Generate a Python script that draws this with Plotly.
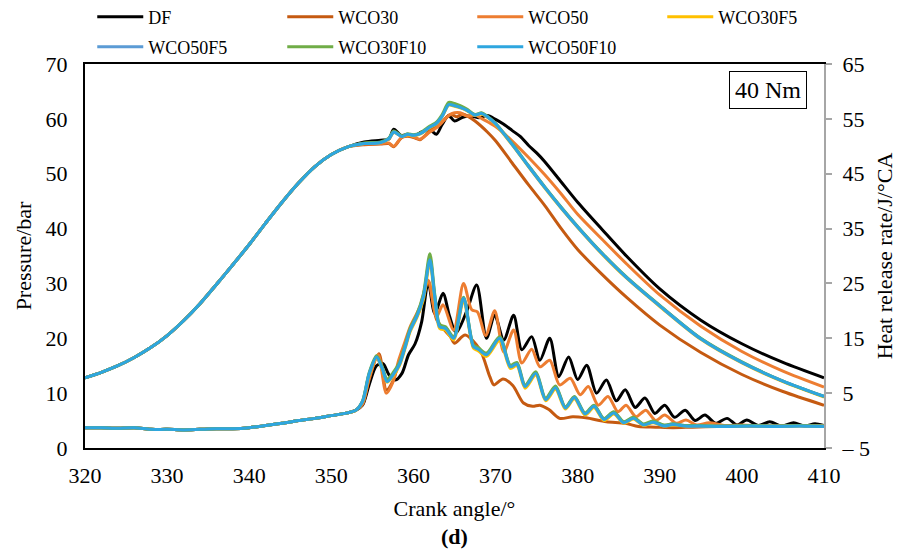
import plotly.graph_objects as go

# ---------------- data ----------------
SERIES = ["DF", "WCO30", "WCO50", "WCO30F5", "WCO50F5", "WCO30F10", "WCO50F10"]
COLORS = ["#000000", "#C55A11", "#ED7D31", "#FFC000", "#5B9BD5", "#70AD47", "#2EA6DF"]

# compression stroke (common to all fuels)
CA_COMP = [320, 322, 324, 326, 328, 330, 332, 334, 336, 338, 340, 342, 344, 346, 348, 350, 352]
P_COMP = [12.8, 13.8, 15.0, 16.5, 18.3, 20.5, 23.2, 26.3, 29.8, 33.4, 37.1, 41.0, 44.8, 48.3, 51.3, 53.5, 54.9]

# combustion / expansion pressure
CA_P_DF = [354, 356, 357, 357.6, 358.5, 359.3, 360.2, 361, 362, 362.8, 363.5, 364.3, 365, 366, 367, 368, 369,
           370, 371, 372, 373, 374, 375, 376, 378, 380, 383, 386, 390, 395, 400, 405, 410]
P_DF = [55.8, 56.1, 56.3, 58.1, 57.0, 57.1, 57.0, 57.6, 58.0, 57.2, 59.0, 60.6, 59.6, 60.3, 60.5, 60.2, 60.6,
        59.9, 59.0, 57.9, 56.8, 55.2, 53.8, 52.2, 48.5, 44.8, 39.8, 34.9, 29.0, 23.3, 19.0, 15.6, 12.8]

CA_P_WCO50 = [354, 356, 357, 357.6, 358.6, 359.5, 360.2, 360.8, 362, 363, 364.3, 365, 365.7, 366.5, 367.5, 368.5,
              370, 372, 374, 376, 378, 380, 383, 386, 390, 395, 400, 405, 410]
P_WCO50 = [55.4, 55.5, 55.6, 55.0, 56.7, 56.9, 56.6, 56.3, 57.6, 58.6, 60.6, 61.1, 61.1, 60.5, 60.7, 59.9,
           58.6, 56.0, 53.0, 49.8, 46.3, 42.6, 38.0, 33.5, 27.9, 22.2, 17.6, 14.0, 11.1]

CA_P_WCO30 = [354, 356, 357, 357.6, 358.6, 359.5, 360.2, 360.8, 362, 363.5, 364.5, 365.3, 366, 366.7, 367.5,
              369, 370, 372, 374, 376, 378, 380, 383, 386, 390, 395, 400, 405, 410]
P_WCO30 = [55.3, 55.4, 55.5, 54.9, 56.6, 56.8, 56.5, 56.2, 57.8, 59.5, 60.8, 60.4, 60.9, 60.4, 59.6,
           57.6, 56.0, 52.0, 48.0, 44.2, 40.0, 36.2, 31.6, 27.4, 22.4, 17.4, 13.4, 10.3, 7.8]

CA_P_FAME = [354, 356, 357, 357.6, 358.6, 359.3, 360, 360.8, 362, 362.8, 363.5, 364.3, 365, 365.7, 366.5,
             367.5, 368.3, 369, 370, 372, 374, 376, 378, 380, 383, 386, 390, 395, 400, 405, 410]
P_WCO30F5 = [55.5, 55.7, 56.3, 57.5, 56.8, 57.1, 56.9, 57.2, 58.4, 59.1, 60.4, 62.5, 62.3, 62.0, 61.5,
             60.6, 60.9, 60.3, 59.0, 55.3, 51.3, 47.4, 43.7, 40.2, 35.3, 30.9, 25.8, 19.8, 15.5, 12.1, 9.3]
P_WCO50F5 = [55.5, 55.7, 56.4, 57.6, 56.8, 57.2, 57.0, 57.3, 58.5, 59.2, 60.5, 62.7, 62.5, 62.1, 61.6,
             60.7, 61.0, 60.4, 59.1, 55.4, 51.4, 47.5, 43.8, 40.3, 35.4, 31.0, 25.9, 19.9, 15.6, 12.2, 9.4]
P_WCO30F10 = [55.6, 55.8, 56.5, 57.8, 56.9, 57.3, 57.1, 57.4, 58.7, 59.4, 60.8, 63.0, 62.8, 62.4, 61.8,
              60.8, 61.1, 60.5, 59.2, 55.5, 51.5, 47.6, 43.9, 40.4, 35.5, 31.1, 26.0, 20.0, 15.7, 12.2, 9.4]
P_WCO50F10 = [55.5, 55.7, 56.4, 57.6, 56.8, 57.2, 57.0, 57.3, 58.5, 59.2, 60.5, 62.6, 62.4, 62.1, 61.6,
              60.7, 61.0, 60.4, 59.1, 55.4, 51.4, 47.5, 43.8, 40.3, 35.4, 31.0, 25.9, 19.9, 15.6, 12.2, 9.4]

# heat release rate before ignition (common to all fuels)
CA_HRR_PRE = [320, 322, 324, 326, 328, 330, 332, 334, 336, 338, 340, 342, 344, 346, 348, 350, 352, 353]
HRR_PRE = [-1.3, -1.3, -1.4, -1.3, -1.6, -1.6, -1.7, -1.6, -1.5, -1.5, -1.3, -0.9, -0.5, 0.0, 0.4, 0.9, 1.4, 1.9]

CA_H_DF = [353.8, 354.6, 355.5, 356.3, 357.0, 357.8, 358.6, 359.4, 360.2, 361.0, 361.8, 362.6, 363.6, 364.4,
           365.2, 366.5, 367.7, 368.9, 369.9, 371.0, 372.2, 373.2, 374.4, 375.4, 376.6, 377.7, 378.9, 380.0,
           381.1, 382.3, 383.5, 384.7, 385.8, 387.0, 388.2, 389.4, 390.6, 391.8, 393.1, 394.3, 395.5, 396.8,
           398.2, 399.4, 400.6, 402.0, 403.4, 404.8, 406.3, 407.6, 408.9, 410]
H_DF = [2.8, 6.5, 10.0, 10.4, 8.4, 7.4, 8.6, 12.0, 14.0, 18.0, 25.2, 19.5, 23.2, 19.0,
        16.0, 20.0, 24.7, 15.0, 19.2, 14.7, 19.2, 12.9, 15.3, 11.0, 15.0, 8.0, 11.6, 7.5,
        10.1, 5.0, 7.4, 3.6, 5.6, 2.4, 4.1, 1.3, 2.8, 0.6, 1.9, 0.0, 1.0, -0.5,
        0.4, -0.8, 0.1, -0.9, -0.2, -1.0, -0.4, -1.0, -0.6, -0.9]

CA_H_WCO50 = [353.8, 354.6, 355.7, 356.7, 357.5, 358.2, 359.0, 359.6, 360.8, 361.8, 362.8, 363.6, 364.9,
              366.1, 367.1, 367.8, 368.8, 369.9, 371.0, 372.2, 373.2, 374.4, 375.4, 376.6, 377.8, 379.1,
              380.3, 381.3, 382.5, 383.7, 384.9, 385.9, 387.1, 388.3, 389.5, 390.6, 392.0, 393.2, 394.5,
              396.0, 398.0, 400.0, 403.0, 406.0, 410.0]
H_WCO50 = [3.0, 7.5, 12.0, 5.0, 7.0, 11.0, 14.5, 17.1, 20.8, 25.6, 18.9, 21.1, 16.5,
           25.0, 20.2, 19.8, 15.5, 20.0, 12.5, 16.5, 10.5, 13.0, 9.8, 11.0, 6.5, 7.7,
           4.7, 6.2, 2.8, 4.4, 1.6, 2.8, 0.7, 1.9, 0.0, 1.0, -0.5, 0.1, -0.8,
           -0.4, -0.9, -0.8, -1.0, -0.9, -0.9]

CA_H_WCO30 = [353.8, 354.6, 355.8, 356.7, 357.5, 358.2, 359.0, 359.6, 360.8, 361.8, 362.8, 363.6, 364.5,
              365.0, 366.3, 368.1, 369.3, 369.8, 370.9, 372.1, 373.4, 374.5, 375.4, 376.5, 377.8, 379.4,
              381.0, 383.5, 385.8, 387.4, 389.5, 391.6, 394, 397, 400, 403, 406, 410]
H_WCO30 = [3.0, 7.8, 12.2, 5.6, 7.2, 10.5, 14.0, 16.5, 20.3, 25.4, 18.5, 16.8, 15.3,
           14.1, 15.6, 12.9, 8.0, 6.5, 7.6, 6.4, 3.2, 2.6, 2.8, 2.0, 0.4, 0.7,
           0.5, -0.2, -0.5, -1.1, -1.2, -1.3, -1.2, -1.1, -1.0, -1.1, -0.9, -1.0]

CA_H_FAME = [353.8, 354.6, 355.5, 356.2, 356.8, 357.6, 358.3, 359.0, 359.6, 360.4, 361.2, 362.0, 362.6,
             363.2, 363.9, 364.9, 366.1, 367.3, 367.9, 368.9, 370.5, 371.8, 372.6, 373.6, 374.9, 376.1,
             377.3, 378.5, 379.6, 380.9, 382.0, 383.2, 384.4, 385.6, 386.8, 388.0, 389.2, 390.5, 391.6,
             393, 395, 398, 401, 404, 407, 410]
H_WCO30F5 = [3.4, 8.3, 11.4, 9.3, 7.0, 8.3, 10.0, 13.2, 16.2, 18.7, 22.0, 28.8, 22.0,
             16.8, 16.5, 14.7, 21.8, 13.2, 12.7, 11.7, 14.6, 9.5, 10.0, 5.9, 8.3, 3.6,
             5.7, 2.1, 4.0, 1.0, 2.4, 0.0, 1.2, -0.5, 0.3, -0.9, -0.4, -1.0, -0.8,
             -1.0, -1.0, -1.1, -1.0, -1.1, -1.0, -1.1]
H_WCO50F5 = [3.5, 8.5, 11.6, 9.5, 7.2, 8.6, 10.3, 13.5, 16.5, 19.0, 22.6, 29.6, 22.6,
             17.2, 16.9, 15.1, 22.4, 13.6, 13.1, 12.1, 15.1, 9.9, 10.4, 6.3, 8.7, 3.9,
             6.1, 2.4, 4.3, 1.3, 2.7, 0.3, 1.5, -0.3, 0.5, -0.7, -0.2, -0.9, -0.6,
             -0.9, -1.0, -1.0, -1.0, -1.0, -1.0, -1.0]
H_WCO30F10 = [3.6, 8.7, 11.8, 9.8, 7.6, 8.9, 10.6, 13.8, 16.8, 19.3, 23.0, 30.4, 23.0,
              17.5, 17.1, 15.3, 22.5, 13.8, 13.3, 12.3, 15.3, 10.1, 10.6, 6.5, 8.9, 4.1,
              6.3, 2.5, 4.4, 1.4, 2.8, 0.4, 1.6, -0.2, 0.6, -0.6, -0.1, -0.8, -0.6,
              -0.9, -0.9, -1.0, -0.9, -1.0, -0.9, -1.0]
H_WCO50F10 = [3.5, 8.5, 11.6, 9.5, 7.1, 8.5, 10.3, 13.5, 16.5, 19.0, 22.5, 29.3, 22.5,
              17.1, 16.8, 15.0, 22.3, 13.5, 13.0, 12.0, 15.0, 9.8, 10.3, 6.2, 8.6, 3.8,
              6.0, 2.3, 4.2, 1.2, 2.6, 0.2, 1.4, -0.4, 0.4, -0.8, -0.3, -1.0, -0.7,
              -1.0, -1.0, -1.1, -1.0, -1.1, -1.0, -1.1]

P_TAILS = [(CA_P_DF, P_DF), (CA_P_WCO30, P_WCO30), (CA_P_WCO50, P_WCO50),
           (CA_P_FAME, P_WCO30F5), (CA_P_FAME, P_WCO50F5), (CA_P_FAME, P_WCO30F10), (CA_P_FAME, P_WCO50F10)]
H_TAILS = [(CA_H_DF, H_DF), (CA_H_WCO30, H_WCO30), (CA_H_WCO50, H_WCO50),
           (CA_H_FAME, H_WCO30F5), (CA_H_FAME, H_WCO50F5), (CA_H_FAME, H_WCO30F10), (CA_H_FAME, H_WCO50F10)]

X_TICKS = [320, 330, 340, 350, 360, 370, 380, 390, 400, 410]
Y_TICKS = [0, 10, 20, 30, 40, 50, 60, 70]
Y2_TICKS = [-5, 5, 15, 25, 35, 45, 55, 65]
Y2_LABELS = ["– 5", "5", "15", "25", "35", "45", "55", "65"]

FONT = "Liberation Serif, Times New Roman, serif"

# ---------------- figure ----------------
fig = go.Figure()
for i, name in enumerate(SERIES):
    ca_p, p = P_TAILS[i]
    ca_h, h = H_TAILS[i]
    legend_id = "legend" if i < 4 else "legend2"
    fig.add_trace(go.Scatter(
        x=CA_COMP + ca_p, y=P_COMP + p, mode="lines", name=name,
        line=dict(color=COLORS[i], width=3, shape="spline", smoothing=0.8),
        legendgroup=name, showlegend=True, legend=legend_id, yaxis="y"))
    fig.add_trace(go.Scatter(
        x=CA_HRR_PRE + ca_h, y=HRR_PRE + h, mode="lines", name=name,
        line=dict(color=COLORS[i], width=3, shape="spline", smoothing=0.8),
        legendgroup=name, showlegend=False, yaxis="y2"))

legend_common = dict(orientation="h", font=dict(family=FONT, size=18, color="black"),
                     entrywidth=121, entrywidthmode="pixels", itemwidth=46, indentation=8,
                     bgcolor="rgba(0,0,0,0)", xanchor="left", yanchor="middle")

fig.update_layout(
    width=908, height=554,
    margin=dict(l=85, r=84, t=64, b=106, autoexpand=False),
    paper_bgcolor="white", plot_bgcolor="white",
    font=dict(family=FONT, size=22, color="black"),
    showlegend=True,
    legend=dict(x=-0.001, y=(448 - 17) / 384, **legend_common),
    legend2=dict(x=-0.001, y=(448 - 47) / 384, **legend_common),
    xaxis=dict(range=[320, 410], tickvals=X_TICKS, showgrid=False, zeroline=False,
               showline=True, linecolor="black", linewidth=2, mirror=True,
               ticks="", tickfont=dict(size=22), ticklabelstandoff=7,
               title=dict(text="Crank angle/°", font=dict(size=22), standoff=13)),
    yaxis=dict(range=[0, 70], tickvals=Y_TICKS, showgrid=False, zeroline=False,
               showline=True, linecolor="black", linewidth=2, ticks="",
               tickfont=dict(size=22), ticklabelstandoff=11,
               title=dict(text="Pressure/bar", font=dict(size=22), standoff=8)),
    yaxis2=dict(range=[-5, 65], tickvals=Y2_TICKS, ticktext=Y2_LABELS, overlaying="y", side="right",
                showgrid=False, zeroline=False, showline=True, linecolor="#A6A6A6", linewidth=2,
                ticks="outside", ticklen=6, tickwidth=2, tickcolor="#A6A6A6",
                tickfont=dict(size=22), ticklabelstandoff=6,
                title=dict(text="Heat release rate/J/°CA", font=dict(size=22), standoff=8)),
    annotations=[
        dict(text="40 Nm", xref="paper", yref="paper", x=(768 - 85) / 739, y=(448 - 90) / 384,
             xanchor="center", yanchor="middle",
             showarrow=False, font=dict(size=24), bordercolor="black", borderwidth=1, borderpad=5,
             bgcolor="white"),
        dict(text="<b>(d)</b>", xref="paper", yref="paper", x=0.5, y=(448 - 536) / 384,
             showarrow=False, font=dict(size=22), yanchor="middle"),
    ],
)

fig.write_html("out.html")
